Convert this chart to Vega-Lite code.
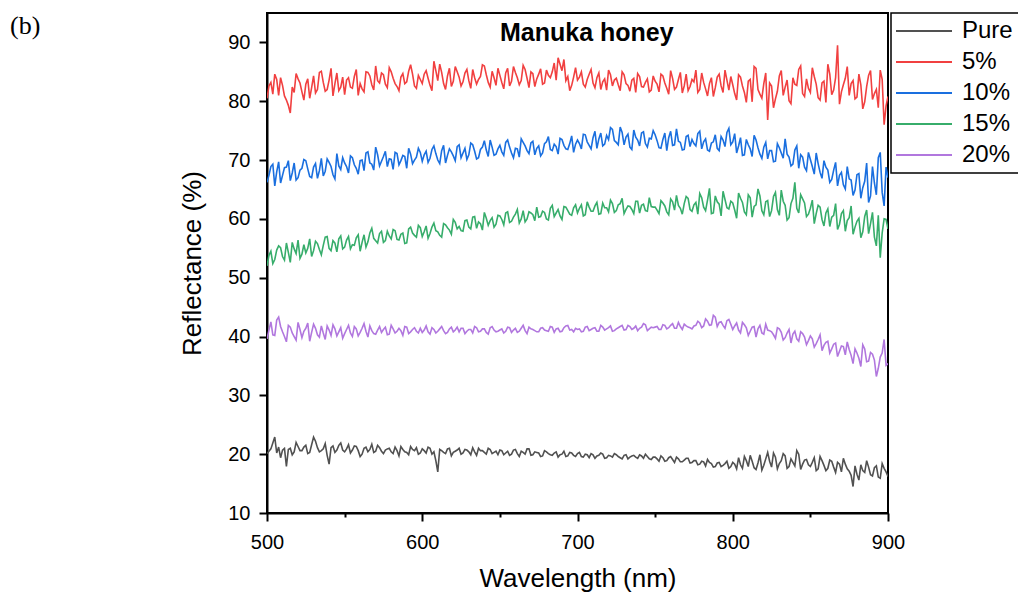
{
"$schema":"https://vega.github.io/schema/vega-lite/v6.json",
"width":621,"height":500,
"autosize":{"type":"none"},
"padding":{"left":267,"top":13,"right":130,"bottom":83},
"background":"white",
"config":{"view":{"stroke":"black","strokeWidth":2},"font":"Liberation Sans","legend":{"strokeWidth":1.5}},
"title":{"text":"(b)","anchor":"start","frame":"group","orient":"top","dx":-257,"dy":40,"offset":0,"baseline":"middle","font":"Liberation Serif","fontSize":26,"fontWeight":"normal","color":"black"},
"layer":[
{"data":{"values":[
{"w":500,"Pure":20.1,"5%":80.5,"10%":66.2,"15%":52.0,"20%":39.6},
{"w":502.5,"Pure":20.9,"5%":83.2,"10%":68.9,"15%":54.5,"20%":42.5},
{"w":505,"Pure":22.9,"5%":84.6,"10%":65.6,"15%":53.1,"20%":40.2},
{"w":507.5,"Pure":21.2,"5%":81.0,"10%":69.7,"15%":55.4,"20%":43.3},
{"w":510,"Pure":20.7,"5%":82.7,"10%":67.4,"15%":53.6,"20%":40.8},
{"w":512.5,"Pure":17.9,"5%":80.2,"10%":68.8,"15%":55.9,"20%":39.1},
{"w":515,"Pure":21.0,"5%":78.0,"10%":66.5,"15%":52.6,"20%":41.6},
{"w":517.5,"Pure":20.4,"5%":81.5,"10%":69.5,"15%":54.9,"20%":40.0},
{"w":520,"Pure":21.3,"5%":83.8,"10%":67.0,"15%":56.4,"20%":42.4},
{"w":522.5,"Pure":20.6,"5%":81.6,"10%":68.6,"15%":54.0,"20%":39.8},
{"w":525,"Pure":21.5,"5%":82.9,"10%":69.9,"15%":54.2,"20%":41.4},
{"w":527.5,"Pure":20.3,"5%":80.5,"10%":67.2,"15%":56.6,"20%":39.2},
{"w":530,"Pure":22.9,"5%":84.3,"10%":68.8,"15%":54.6,"20%":42.1},
{"w":532.5,"Pure":21.1,"5%":82.0,"10%":66.9,"15%":55.8,"20%":40.3},
{"w":535,"Pure":20.6,"5%":85.1,"10%":70.3,"15%":53.9,"20%":41.8},
{"w":537.5,"Pure":21.8,"5%":81.7,"10%":68.1,"15%":56.9,"20%":39.5},
{"w":540,"Pure":18.3,"5%":83.6,"10%":69.6,"15%":55.0,"20%":41.1},
{"w":542.5,"Pure":21.4,"5%":80.9,"10%":67.5,"15%":56.3,"20%":42.0},
{"w":545,"Pure":20.7,"5%":84.8,"10%":71.1,"15%":54.4,"20%":40.1},
{"w":547.5,"Pure":21.9,"5%":82.4,"10%":68.4,"15%":57.1,"20%":41.5},
{"w":550,"Pure":20.4,"5%":81.1,"10%":69.5,"15%":55.2,"20%":40.5},
{"w":552.5,"Pure":21.6,"5%":84.0,"10%":67.8,"15%":57.0,"20%":41.9},
{"w":555,"Pure":20.7,"5%":82.2,"10%":70.4,"15%":55.6,"20%":40.0},
{"w":557.5,"Pure":21.3,"5%":85.4,"10%":68.6,"15%":56.8,"20%":41.3},
{"w":560,"Pure":19.6,"5%":83.0,"10%":69.9,"15%":54.5,"20%":40.7},
{"w":562.5,"Pure":21.0,"5%":81.6,"10%":68.2,"15%":57.3,"20%":42.2},
{"w":565,"Pure":20.4,"5%":84.9,"10%":71.4,"15%":56.1,"20%":39.9},
{"w":567.5,"Pure":21.7,"5%":82.8,"10%":69.3,"15%":58.4,"20%":41.0},
{"w":570,"Pure":20.5,"5%":86.0,"10%":72.2,"15%":56.3,"20%":40.4},
{"w":572.5,"Pure":21.1,"5%":83.1,"10%":69.0,"15%":57.5,"20%":41.7},
{"w":575,"Pure":20.1,"5%":84.5,"10%":70.6,"15%":56.0,"20%":41.2},
{"w":577.5,"Pure":20.9,"5%":82.3,"10%":68.9,"15%":57.9,"20%":40.3},
{"w":580,"Pure":20.4,"5%":85.0,"10%":70.1,"15%":56.6,"20%":41.9},
{"w":582.5,"Pure":21.2,"5%":83.0,"10%":71.3,"15%":58.0,"20%":40.6},
{"w":585,"Pure":19.7,"5%":81.8,"10%":69.2,"15%":56.4,"20%":41.4},
{"w":587.5,"Pure":20.8,"5%":84.7,"10%":70.8,"15%":57.6,"20%":40.2},
{"w":590,"Pure":20.3,"5%":83.3,"10%":68.6,"15%":55.9,"20%":41.6},
{"w":592.5,"Pure":21.3,"5%":86.2,"10%":71.0,"15%":58.6,"20%":40.8},
{"w":595,"Pure":20.6,"5%":82.6,"10%":70.0,"15%":57.2,"20%":41.5},
{"w":597.5,"Pure":20.0,"5%":84.4,"10%":72.0,"15%":58.9,"20%":40.6},
{"w":600,"Pure":20.9,"5%":83.0,"10%":69.8,"15%":57.0,"20%":40.7},
{"w":602.5,"Pure":20.2,"5%":85.2,"10%":71.5,"15%":58.8,"20%":41.8},
{"w":605,"Pure":21.0,"5%":82.7,"10%":70.3,"15%":57.5,"20%":40.4},
{"w":607.5,"Pure":20.4,"5%":86.8,"10%":72.4,"15%":59.3,"20%":41.2},
{"w":610,"Pure":17.0,"5%":83.5,"10%":70.0,"15%":57.8,"20%":40.9},
{"w":612.5,"Pure":20.6,"5%":84.9,"10%":71.6,"15%":56.9,"20%":41.7},
{"w":615,"Pure":20.1,"5%":82.0,"10%":69.5,"15%":59.0,"20%":40.5},
{"w":617.5,"Pure":21.0,"5%":85.6,"10%":71.9,"15%":58.1,"20%":41.3},
{"w":620,"Pure":20.3,"5%":83.4,"10%":70.7,"15%":59.9,"20%":40.8},
{"w":622.5,"Pure":20.7,"5%":85.0,"10%":72.3,"15%":58.3,"20%":41.6},
{"w":625,"Pure":20.0,"5%":82.6,"10%":70.4,"15%":58.0,"20%":41.4},
{"w":627.5,"Pure":20.8,"5%":84.8,"10%":72.0,"15%":59.7,"20%":40.5},
{"w":630,"Pure":20.4,"5%":83.5,"10%":70.9,"15%":58.6,"20%":41.2},
{"w":632.5,"Pure":21.1,"5%":85.4,"10%":72.6,"15%":60.3,"20%":40.6},
{"w":635,"Pure":19.8,"5%":82.9,"10%":70.2,"15%":58.4,"20%":41.5},
{"w":637.5,"Pure":20.6,"5%":84.2,"10%":71.8,"15%":59.2,"20%":40.9},
{"w":640,"Pure":20.3,"5%":86.0,"10%":73.3,"15%":61.1,"20%":41.3},
{"w":642.5,"Pure":21.0,"5%":83.2,"10%":70.6,"15%":58.9,"20%":40.4},
{"w":645,"Pure":20.1,"5%":85.1,"10%":72.2,"15%":60.2,"20%":41.7},
{"w":647.5,"Pure":20.5,"5%":82.7,"10%":71.0,"15%":59.1,"20%":40.8},
{"w":650,"Pure":20.7,"5%":84.4,"10%":72.5,"15%":60.5,"20%":41.1},
{"w":652.5,"Pure":19.9,"5%":82.1,"10%":70.8,"15%":59.0,"20%":40.6},
{"w":655,"Pure":20.5,"5%":85.6,"10%":73.4,"15%":61.2,"20%":41.6},
{"w":657.5,"Pure":20.0,"5%":83.4,"10%":71.2,"15%":59.6,"20%":40.7},
{"w":660,"Pure":20.8,"5%":84.9,"10%":72.0,"15%":60.8,"20%":41.4},
{"w":662.5,"Pure":19.6,"5%":82.8,"10%":70.5,"15%":59.3,"20%":40.9},
{"w":665,"Pure":20.3,"5%":86.1,"10%":73.0,"15%":61.4,"20%":41.9},
{"w":667.5,"Pure":20.9,"5%":83.9,"10%":71.6,"15%":60.0,"20%":40.5},
{"w":670,"Pure":19.8,"5%":85.0,"10%":72.9,"15%":61.0,"20%":41.3},
{"w":672.5,"Pure":20.4,"5%":82.5,"10%":70.9,"15%":59.7,"20%":41.0},
{"w":675,"Pure":20.2,"5%":84.6,"10%":72.4,"15%":60.3,"20%":40.8},
{"w":677.5,"Pure":19.7,"5%":82.9,"10%":71.2,"15%":61.3,"20%":41.5},
{"w":680,"Pure":20.4,"5%":85.3,"10%":73.1,"15%":60.0,"20%":41.0},
{"w":682.5,"Pure":19.9,"5%":84.0,"10%":71.8,"15%":61.8,"20%":41.7},
{"w":685,"Pure":20.2,"5%":86.5,"10%":72.7,"15%":60.4,"20%":40.7},
{"w":687.5,"Pure":19.5,"5%":87.4,"10%":71.0,"15%":61.6,"20%":41.4},
{"w":690,"Pure":20.0,"5%":85.2,"10%":73.5,"15%":59.9,"20%":40.9},
{"w":692.5,"Pure":19.6,"5%":83.5,"10%":71.9,"15%":62.0,"20%":41.8},
{"w":695,"Pure":20.3,"5%":81.8,"10%":72.8,"15%":60.8,"20%":41.1},
{"w":697.5,"Pure":19.8,"5%":84.1,"10%":71.3,"15%":61.9,"20%":40.8},
{"w":700,"Pure":20.1,"5%":83.6,"10%":73.4,"15%":61.0,"20%":41.2},
{"w":702.5,"Pure":19.6,"5%":85.0,"10%":71.9,"15%":62.4,"20%":40.8},
{"w":705,"Pure":20.0,"5%":82.4,"10%":74.3,"15%":60.7,"20%":41.6},
{"w":707.5,"Pure":19.4,"5%":84.6,"10%":72.5,"15%":62.0,"20%":41.0},
{"w":710,"Pure":19.9,"5%":83.1,"10%":73.8,"15%":61.3,"20%":41.4},
{"w":712.5,"Pure":19.7,"5%":84.0,"10%":72.0,"15%":62.8,"20%":40.9},
{"w":715,"Pure":20.2,"5%":82.0,"10%":74.6,"15%":60.9,"20%":41.9},
{"w":717.5,"Pure":19.3,"5%":83.8,"10%":72.7,"15%":61.9,"20%":41.1},
{"w":720,"Pure":19.8,"5%":85.3,"10%":73.5,"15%":61.2,"20%":41.5},
{"w":722.5,"Pure":19.5,"5%":82.6,"10%":75.2,"15%":62.6,"20%":40.9},
{"w":725,"Pure":19.9,"5%":83.9,"10%":73.0,"15%":61.4,"20%":41.3},
{"w":727.5,"Pure":19.4,"5%":81.8,"10%":75.6,"15%":62.6,"20%":41.7},
{"w":730,"Pure":19.8,"5%":84.5,"10%":72.6,"15%":60.9,"20%":41.1},
{"w":732.5,"Pure":19.2,"5%":82.7,"10%":74.4,"15%":62.2,"20%":41.9},
{"w":735,"Pure":19.7,"5%":83.6,"10%":71.8,"15%":61.6,"20%":41.2},
{"w":737.5,"Pure":19.5,"5%":81.5,"10%":73.9,"15%":63.0,"20%":41.8},
{"w":740,"Pure":19.9,"5%":84.2,"10%":72.4,"15%":61.0,"20%":41.4},
{"w":742.5,"Pure":19.3,"5%":82.4,"10%":74.8,"15%":62.5,"20%":42.2},
{"w":745,"Pure":19.6,"5%":83.8,"10%":72.2,"15%":61.3,"20%":41.0},
{"w":747.5,"Pure":19.1,"5%":81.9,"10%":73.6,"15%":62.1,"20%":41.6},
{"w":750,"Pure":19.5,"5%":83.4,"10%":74.3,"15%":62.0,"20%":41.6},
{"w":752.5,"Pure":18.8,"5%":81.6,"10%":72.1,"15%":60.9,"20%":41.2},
{"w":755,"Pure":19.4,"5%":84.3,"10%":73.5,"15%":62.7,"20%":42.0},
{"w":757.5,"Pure":18.9,"5%":82.2,"10%":71.6,"15%":61.2,"20%":41.3},
{"w":760,"Pure":19.6,"5%":85.2,"10%":74.9,"15%":63.4,"20%":41.9},
{"w":762.5,"Pure":18.6,"5%":82.0,"10%":72.6,"15%":61.5,"20%":41.4},
{"w":765,"Pure":19.2,"5%":83.7,"10%":73.2,"15%":62.3,"20%":42.4},
{"w":767.5,"Pure":18.7,"5%":81.4,"10%":71.7,"15%":60.8,"20%":41.2},
{"w":770,"Pure":19.3,"5%":84.6,"10%":74.0,"15%":63.8,"20%":41.8},
{"w":772.5,"Pure":18.5,"5%":82.5,"10%":72.3,"15%":61.6,"20%":41.5},
{"w":775,"Pure":18.9,"5%":83.3,"10%":72.8,"15%":62.4,"20%":41.8},
{"w":777.5,"Pure":18.2,"5%":81.5,"10%":74.5,"15%":60.8,"20%":42.6},
{"w":780,"Pure":18.8,"5%":84.8,"10%":71.9,"15%":63.6,"20%":41.5},
{"w":782.5,"Pure":18.0,"5%":82.1,"10%":73.6,"15%":61.4,"20%":43.0},
{"w":785,"Pure":18.6,"5%":83.0,"10%":71.5,"15%":65.2,"20%":41.9},
{"w":787.5,"Pure":17.8,"5%":80.8,"10%":73.1,"15%":61.0,"20%":43.6},
{"w":790,"Pure":18.5,"5%":84.1,"10%":72.0,"15%":62.9,"20%":41.7},
{"w":792.5,"Pure":17.9,"5%":82.6,"10%":74.0,"15%":60.5,"20%":42.5},
{"w":795,"Pure":18.4,"5%":85.3,"10%":72.3,"15%":63.3,"20%":41.4},
{"w":797.5,"Pure":17.6,"5%":81.9,"10%":75.4,"15%":61.7,"20%":42.9},
{"w":800,"Pure":18.6,"5%":82.8,"10%":73.1,"15%":62.7,"20%":41.2},
{"w":802.5,"Pure":17.5,"5%":80.2,"10%":71.2,"15%":60.1,"20%":42.3},
{"w":805,"Pure":18.2,"5%":84.1,"10%":73.8,"15%":63.5,"20%":40.6},
{"w":807.5,"Pure":19.6,"5%":81.5,"10%":70.9,"15%":61.2,"20%":42.0},
{"w":810,"Pure":17.9,"5%":83.4,"10%":72.6,"15%":64.1,"20%":40.2},
{"w":812.5,"Pure":18.8,"5%":79.9,"10%":70.6,"15%":60.3,"20%":41.6},
{"w":815,"Pure":17.4,"5%":85.6,"10%":73.4,"15%":62.4,"20%":39.9},
{"w":817.5,"Pure":19.9,"5%":81.2,"10%":71.0,"15%":63.9,"20%":41.9},
{"w":820,"Pure":18.1,"5%":83.0,"10%":72.2,"15%":60.7,"20%":40.4},
{"w":822.5,"Pure":20.3,"5%":76.8,"10%":70.2,"15%":63.1,"20%":41.1},
{"w":825,"Pure":17.8,"5%":82.6,"10%":71.6,"15%":61.4,"20%":40.8},
{"w":827.5,"Pure":19.5,"5%":80.4,"10%":69.8,"15%":64.5,"20%":39.7},
{"w":830,"Pure":18.4,"5%":84.3,"10%":72.1,"15%":60.6,"20%":41.3},
{"w":832.5,"Pure":20.1,"5%":81.0,"10%":70.3,"15%":63.0,"20%":39.4},
{"w":835,"Pure":17.6,"5%":83.6,"10%":71.0,"15%":59.8,"20%":40.6},
{"w":837.5,"Pure":19.2,"5%":79.6,"10%":69.0,"15%":62.6,"20%":38.9},
{"w":840,"Pure":18.0,"5%":82.9,"10%":71.7,"15%":66.2,"20%":40.9},
{"w":842.5,"Pure":20.0,"5%":85.4,"10%":68.6,"15%":61.0,"20%":39.2},
{"w":845,"Pure":18.3,"5%":81.3,"10%":70.5,"15%":63.4,"20%":40.5},
{"w":847.5,"Pure":19.1,"5%":83.8,"10%":68.2,"15%":60.4,"20%":38.6},
{"w":850,"Pure":17.9,"5%":81.5,"10%":70.1,"15%":61.8,"20%":40.1},
{"w":852.5,"Pure":19.4,"5%":84.2,"10%":67.6,"15%":59.2,"20%":38.2},
{"w":855,"Pure":17.5,"5%":80.6,"10%":69.4,"15%":62.3,"20%":39.5},
{"w":857.5,"Pure":18.9,"5%":83.1,"10%":66.9,"15%":59.9,"20%":37.6},
{"w":860,"Pure":17.2,"5%":79.8,"10%":68.8,"15%":61.0,"20%":39.0},
{"w":862.5,"Pure":19.0,"5%":84.6,"10%":66.2,"15%":58.7,"20%":37.2},
{"w":865,"Pure":17.8,"5%":81.9,"10%":68.3,"15%":60.6,"20%":38.7},
{"w":867.5,"Pure":18.6,"5%":89.5,"10%":65.6,"15%":58.2,"20%":36.6},
{"w":870,"Pure":17.0,"5%":81.6,"10%":67.9,"15%":60.9,"20%":38.4},
{"w":872.5,"Pure":18.3,"5%":83.9,"10%":65.1,"15%":57.9,"20%":36.9},
{"w":875,"Pure":17.1,"5%":81.0,"10%":66.8,"15%":60.2,"20%":37.8},
{"w":877.5,"Pure":14.5,"5%":83.5,"10%":64.0,"15%":57.4,"20%":35.4},
{"w":880,"Pure":16.6,"5%":80.7,"10%":67.5,"15%":59.6,"20%":37.2},
{"w":882.5,"Pure":18.2,"5%":82.8,"10%":63.5,"15%":56.8,"20%":34.9},
{"w":885,"Pure":16.9,"5%":79.9,"10%":66.4,"15%":60.4,"20%":37.9},
{"w":887.5,"Pure":17.8,"5%":84.4,"10%":62.8,"15%":57.5,"20%":35.8},
{"w":890,"Pure":16.3,"5%":80.3,"10%":68.9,"15%":61.1,"20%":37.0},
{"w":892.5,"Pure":18.0,"5%":82.0,"10%":64.1,"15%":55.4,"20%":33.2},
{"w":895,"Pure":15.9,"5%":85.3,"10%":71.3,"15%":53.4,"20%":36.5},
{"w":897.5,"Pure":17.6,"5%":76.0,"10%":62.2,"15%":60.0,"20%":39.5},
{"w":900,"Pure":16.2,"5%":80.8,"10%":67.0,"15%":58.3,"20%":35.4},
{"w":501.25,"Pure":20.5,"5%":82.6,"10%":67.4,"15%":53.8,"20%":41.1},
{"w":503.75,"Pure":21.9,"5%":81.2,"10%":69.3,"15%":52.4,"20%":40.3},
{"w":506.25,"Pure":20.2,"5%":83.7,"10%":68.0,"15%":54.7,"20%":42.8},
{"w":508.75,"Pure":19.4,"5%":84.0,"10%":66.1,"15%":55.1,"20%":41.7},
{"w":511.25,"Pure":21.0,"5%":80.9,"10%":68.7,"15%":53.0,"20%":40.0},
{"w":513.75,"Pure":20.8,"5%":79.3,"10%":69.9,"15%":54.3,"20%":41.9},
{"w":516.25,"Pure":19.9,"5%":82.4,"10%":67.8,"15%":56.0,"20%":40.6},
{"w":518.75,"Pure":22.0,"5%":84.7,"10%":66.6,"15%":54.1,"20%":39.4},
{"w":521.25,"Pure":20.6,"5%":83.1,"10%":68.3,"15%":53.3,"20%":41.2},
{"w":523.75,"Pure":21.2,"5%":80.2,"10%":70.1,"15%":55.6,"20%":40.9},
{"w":526.25,"Pure":20.1,"5%":83.8,"10%":68.5,"15%":55.0,"20%":42.3},
{"w":528.75,"Pure":21.6,"5%":82.3,"10%":67.0,"15%":53.6,"20%":40.7},
{"w":531.25,"Pure":22.2,"5%":81.4,"10%":69.4,"15%":56.2,"20%":41.4},
{"w":533.75,"Pure":20.4,"5%":84.9,"10%":68.2,"15%":54.8,"20%":39.9},
{"w":536.25,"Pure":20.9,"5%":83.2,"10%":67.3,"15%":55.5,"20%":40.6},
{"w":538.75,"Pure":19.8,"5%":82.0,"10%":70.2,"15%":57.0,"20%":41.8},
{"w":541.25,"Pure":21.1,"5%":85.6,"10%":68.9,"15%":54.6,"20%":40.2},
{"w":543.75,"Pure":20.3,"5%":83.0,"10%":66.8,"15%":55.9,"20%":41.3},
{"w":546.25,"Pure":21.5,"5%":81.8,"10%":69.0,"15%":56.6,"20%":40.8},
{"w":548.75,"Pure":20.7,"5%":84.1,"10%":70.4,"15%":54.9,"20%":39.7},
{"w":551.25,"Pure":20.9,"5%":83.6,"10%":68.9,"15%":56.4,"20%":41.2},
{"w":553.75,"Pure":20.2,"5%":82.4,"10%":70.7,"15%":54.9,"20%":40.6},
{"w":556.25,"Pure":21.4,"5%":84.2,"10%":69.2,"15%":55.5,"20%":41.7},
{"w":558.75,"Pure":20.6,"5%":81.0,"10%":67.6,"15%":57.3,"20%":40.1},
{"w":561.25,"Pure":20.0,"5%":82.1,"10%":70.0,"15%":56.0,"20%":41.4},
{"w":563.75,"Pure":21.2,"5%":85.0,"10%":71.2,"15%":55.2,"20%":40.9},
{"w":566.25,"Pure":20.8,"5%":84.3,"10%":69.5,"15%":57.6,"20%":41.8},
{"w":568.75,"Pure":20.3,"5%":81.9,"10%":68.3,"15%":56.7,"20%":40.5},
{"w":571.25,"Pure":21.5,"5%":83.5,"10%":70.9,"15%":55.9,"20%":41.1},
{"w":573.75,"Pure":20.5,"5%":84.8,"10%":69.8,"15%":57.9,"20%":40.7},
{"w":576.25,"Pure":20.7,"5%":82.9,"10%":71.5,"15%":56.3,"20%":41.6},
{"w":578.75,"Pure":21.0,"5%":85.7,"10%":70.2,"15%":57.1,"20%":40.4},
{"w":581.25,"Pure":20.1,"5%":83.9,"10%":68.4,"15%":58.2,"20%":41.3},
{"w":583.75,"Pure":20.6,"5%":82.5,"10%":71.1,"15%":56.5,"20%":40.9},
{"w":586.25,"Pure":21.3,"5%":84.1,"10%":69.9,"15%":57.4,"20%":41.0},
{"w":588.75,"Pure":20.4,"5%":83.0,"10%":70.6,"15%":55.8,"20%":41.7},
{"w":591.25,"Pure":19.9,"5%":85.1,"10%":72.0,"15%":58.3,"20%":40.5},
{"w":593.75,"Pure":20.8,"5%":84.6,"10%":69.4,"15%":57.6,"20%":41.2},
{"w":596.25,"Pure":21.1,"5%":82.2,"10%":70.5,"15%":56.9,"20%":40.9},
{"w":598.75,"Pure":20.2,"5%":83.7,"10%":71.3,"15%":58.5,"20%":41.4},
{"w":601.25,"Pure":20.6,"5%":84.6,"10%":70.9,"15%":57.8,"20%":41.1},
{"w":603.75,"Pure":21.2,"5%":83.9,"10%":69.6,"15%":56.7,"20%":40.8},
{"w":606.25,"Pure":20.0,"5%":81.8,"10%":71.8,"15%":58.6,"20%":41.5},
{"w":608.75,"Pure":18.9,"5%":85.2,"10%":71.1,"15%":58.0,"20%":40.6},
{"w":611.25,"Pure":20.8,"5%":86.3,"10%":69.4,"15%":57.2,"20%":41.3},
{"w":613.75,"Pure":20.3,"5%":83.0,"10%":72.5,"15%":59.2,"20%":41.0},
{"w":616.25,"Pure":20.9,"5%":84.3,"10%":70.8,"15%":58.5,"20%":40.7},
{"w":618.75,"Pure":19.7,"5%":82.5,"10%":71.4,"15%":57.4,"20%":41.6},
{"w":621.25,"Pure":20.5,"5%":85.9,"10%":69.9,"15%":59.4,"20%":41.1},
{"w":623.75,"Pure":21.0,"5%":84.1,"10%":72.6,"15%":58.7,"20%":40.8},
{"w":626.25,"Pure":20.2,"5%":83.3,"10%":71.2,"15%":57.9,"20%":41.4},
{"w":628.75,"Pure":20.7,"5%":85.4,"10%":70.1,"15%":59.8,"20%":40.9},
{"w":631.25,"Pure":19.9,"5%":82.2,"10%":72.9,"15%":58.3,"20%":41.2},
{"w":633.75,"Pure":20.4,"5%":84.0,"10%":71.5,"15%":60.4,"20%":41.7},
{"w":636.25,"Pure":21.0,"5%":83.7,"10%":70.4,"15%":59.5,"20%":40.8},
{"w":638.75,"Pure":20.6,"5%":86.2,"10%":72.2,"15%":58.1,"20%":41.3},
{"w":641.25,"Pure":20.0,"5%":84.5,"10%":71.7,"15%":60.1,"20%":40.7},
{"w":643.75,"Pure":20.8,"5%":82.4,"10%":73.4,"15%":59.7,"20%":41.5},
{"w":646.25,"Pure":20.3,"5%":84.0,"10%":70.8,"15%":58.6,"20%":41.1},
{"w":648.75,"Pure":19.9,"5%":85.6,"10%":71.9,"15%":60.6,"20%":40.9},
{"w":651.25,"Pure":20.6,"5%":83.2,"10%":71.4,"15%":59.9,"20%":41.3},
{"w":653.75,"Pure":20.2,"5%":84.8,"10%":73.0,"15%":61.0,"20%":40.9},
{"w":656.25,"Pure":19.8,"5%":82.6,"10%":72.2,"15%":59.4,"20%":41.5},
{"w":658.75,"Pure":20.7,"5%":85.9,"10%":70.4,"15%":60.3,"20%":41.1},
{"w":661.25,"Pure":20.1,"5%":84.0,"10%":71.9,"15%":61.6,"20%":40.7},
{"w":663.75,"Pure":20.5,"5%":83.5,"10%":73.6,"15%":60.0,"20%":41.4},
{"w":666.25,"Pure":20.0,"5%":85.4,"10%":72.4,"15%":59.5,"20%":41.0},
{"w":668.75,"Pure":20.9,"5%":82.3,"10%":71.1,"15%":61.2,"20%":41.6},
{"w":671.25,"Pure":19.9,"5%":84.7,"10%":73.2,"15%":60.7,"20%":41.2},
{"w":673.75,"Pure":20.3,"5%":83.8,"10%":72.0,"15%":62.0,"20%":40.8},
{"w":676.25,"Pure":19.6,"5%":85.5,"10%":70.7,"15%":60.4,"20%":41.4},
{"w":678.75,"Pure":20.6,"5%":83.1,"10%":72.8,"15%":61.1,"20%":41.1},
{"w":681.25,"Pure":20.1,"5%":84.4,"10%":74.0,"15%":59.8,"20%":40.9},
{"w":683.75,"Pure":19.8,"5%":85.0,"10%":71.6,"15%":62.3,"20%":41.6},
{"w":686.25,"Pure":20.4,"5%":83.6,"10%":72.3,"15%":61.0,"20%":41.3},
{"w":688.75,"Pure":19.9,"5%":86.3,"10%":73.7,"15%":60.5,"20%":40.8},
{"w":691.25,"Pure":20.5,"5%":87.1,"10%":72.5,"15%":62.1,"20%":41.5},
{"w":693.75,"Pure":19.7,"5%":84.2,"10%":71.8,"15%":61.4,"20%":41.9},
{"w":696.25,"Pure":20.2,"5%":82.7,"10%":74.1,"15%":60.6,"20%":41.2},
{"w":698.75,"Pure":19.6,"5%":85.7,"10%":72.7,"15%":62.4,"20%":41.4},
{"w":701.25,"Pure":20.3,"5%":84.1,"10%":72.8,"15%":61.8,"20%":41.3},
{"w":703.75,"Pure":19.5,"5%":82.9,"10%":74.4,"15%":60.5,"20%":40.9},
{"w":706.25,"Pure":19.9,"5%":83.7,"10%":73.1,"15%":62.9,"20%":41.7},
{"w":708.75,"Pure":20.1,"5%":85.4,"10%":71.9,"15%":61.3,"20%":41.2},
{"w":711.25,"Pure":19.3,"5%":82.3,"10%":74.9,"15%":62.2,"20%":41.5},
{"w":713.75,"Pure":19.8,"5%":84.8,"10%":73.6,"15%":60.8,"20%":40.9},
{"w":716.25,"Pure":20.0,"5%":83.3,"10%":72.4,"15%":62.7,"20%":41.6},
{"w":718.75,"Pure":19.4,"5%":81.9,"10%":74.2,"15%":61.9,"20%":41.3},
{"w":721.25,"Pure":19.7,"5%":84.5,"10%":75.5,"15%":63.2,"20%":41.8},
{"w":723.75,"Pure":20.1,"5%":83.6,"10%":73.3,"15%":61.1,"20%":41.0},
{"w":726.25,"Pure":19.6,"5%":82.8,"10%":72.6,"15%":62.4,"20%":41.5},
{"w":728.75,"Pure":19.2,"5%":85.0,"10%":74.7,"15%":63.5,"20%":41.9},
{"w":731.25,"Pure":19.9,"5%":83.0,"10%":73.9,"15%":61.6,"20%":41.2},
{"w":733.75,"Pure":19.5,"5%":81.7,"10%":72.2,"15%":62.1,"20%":41.7},
{"w":736.25,"Pure":19.8,"5%":83.9,"10%":75.1,"15%":60.9,"20%":41.4},
{"w":738.75,"Pure":19.3,"5%":84.7,"10%":73.4,"15%":63.0,"20%":41.0},
{"w":741.25,"Pure":19.7,"5%":82.5,"10%":74.6,"15%":62.3,"20%":41.6},
{"w":743.75,"Pure":20.0,"5%":83.2,"10%":72.8,"15%":61.4,"20%":42.0},
{"w":746.25,"Pure":19.2,"5%":81.6,"10%":73.7,"15%":63.6,"20%":41.3},
{"w":748.75,"Pure":19.5,"5%":84.3,"10%":75.0,"15%":62.0,"20%":41.5},
{"w":751.25,"Pure":19.2,"5%":82.9,"10%":73.3,"15%":61.5,"20%":41.7},
{"w":753.75,"Pure":19.7,"5%":84.6,"10%":72.0,"15%":63.1,"20%":41.2},
{"w":756.25,"Pure":18.8,"5%":83.1,"10%":74.6,"15%":62.2,"20%":41.9},
{"w":758.75,"Pure":19.4,"5%":81.2,"10%":73.8,"15%":60.7,"20%":41.5},
{"w":761.25,"Pure":19.1,"5%":83.9,"10%":72.5,"15%":62.9,"20%":42.2},
{"w":763.75,"Pure":19.5,"5%":82.4,"10%":75.3,"15%":64.0,"20%":41.4},
{"w":766.25,"Pure":18.7,"5%":84.9,"10%":73.0,"15%":61.8,"20%":41.7},
{"w":768.75,"Pure":19.0,"5%":82.6,"10%":71.8,"15%":62.6,"20%":42.1},
{"w":771.25,"Pure":19.3,"5%":81.8,"10%":74.2,"15%":63.5,"20%":41.6},
{"w":773.75,"Pure":18.6,"5%":83.7,"10%":73.5,"15%":61.3,"20%":41.3},
{"w":776.25,"Pure":18.9,"5%":85.3,"10%":72.4,"15%":62.8,"20%":41.9},
{"w":778.75,"Pure":18.3,"5%":82.0,"10%":74.9,"15%":64.3,"20%":42.3},
{"w":781.25,"Pure":18.7,"5%":83.2,"10%":73.1,"15%":62.0,"20%":41.8},
{"w":783.75,"Pure":19.1,"5%":80.9,"10%":71.7,"15%":63.2,"20%":42.6},
{"w":786.25,"Pure":18.4,"5%":84.0,"10%":72.9,"15%":60.9,"20%":42.0},
{"w":788.75,"Pure":17.9,"5%":82.3,"10%":74.3,"15%":63.9,"20%":43.3},
{"w":791.25,"Pure":18.6,"5%":84.6,"10%":71.6,"15%":62.5,"20%":42.4},
{"w":793.75,"Pure":18.1,"5%":81.5,"10%":73.4,"15%":64.7,"20%":41.9},
{"w":796.25,"Pure":18.8,"5%":83.6,"10%":74.7,"15%":61.9,"20%":42.7},
{"w":798.75,"Pure":17.9,"5%":84.2,"10%":72.6,"15%":63.0,"20%":42.1},
{"w":801.25,"Pure":18.3,"5%":81.3,"10%":74.5,"15%":61.5,"20%":41.8},
{"w":803.75,"Pure":19.4,"5%":84.5,"10%":72.4,"15%":64.4,"20%":41.1},
{"w":806.25,"Pure":17.6,"5%":82.6,"10%":70.8,"15%":62.8,"20%":42.4},
{"w":808.75,"Pure":18.9,"5%":79.8,"10%":73.5,"15%":60.7,"20%":41.5},
{"w":811.25,"Pure":19.8,"5%":83.7,"10%":71.9,"15%":63.6,"20%":40.9},
{"w":813.75,"Pure":17.7,"5%":85.9,"10%":74.2,"15%":62.1,"20%":41.7},
{"w":816.25,"Pure":18.5,"5%":82.0,"10%":72.1,"15%":65.1,"20%":41.3},
{"w":818.75,"Pure":17.3,"5%":80.5,"10%":70.3,"15%":61.4,"20%":40.6},
{"w":821.25,"Pure":19.2,"5%":84.8,"10%":73.0,"15%":62.9,"20%":42.1},
{"w":823.75,"Pure":18.8,"5%":83.1,"10%":71.6,"15%":60.4,"20%":41.0},
{"w":826.25,"Pure":20.2,"5%":78.9,"10%":69.7,"15%":63.8,"20%":40.3},
{"w":828.75,"Pure":17.5,"5%":81.7,"10%":72.8,"15%":61.6,"20%":41.5},
{"w":831.25,"Pure":18.9,"5%":85.2,"10%":71.2,"15%":64.9,"20%":40.7},
{"w":833.75,"Pure":19.7,"5%":82.4,"10%":73.6,"15%":62.3,"20%":39.8},
{"w":836.25,"Pure":17.9,"5%":80.1,"10%":70.5,"15%":60.2,"20%":41.2},
{"w":838.75,"Pure":18.6,"5%":84.0,"10%":69.3,"15%":63.5,"20%":40.4},
{"w":841.25,"Pure":20.6,"5%":82.7,"10%":72.4,"15%":61.8,"20%":39.6},
{"w":843.75,"Pure":17.4,"5%":86.0,"10%":70.9,"15%":64.1,"20%":40.8},
{"w":846.25,"Pure":19.0,"5%":80.8,"10%":68.8,"15%":62.7,"20%":39.9},
{"w":848.75,"Pure":18.2,"5%":82.2,"10%":71.3,"15%":60.8,"20%":39.3},
{"w":851.25,"Pure":18.6,"5%":85.7,"10%":68.9,"15%":63.2,"20%":39.6},
{"w":853.75,"Pure":17.2,"5%":82.9,"10%":71.2,"15%":60.9,"20%":38.8},
{"w":856.25,"Pure":19.6,"5%":80.2,"10%":67.9,"15%":62.0,"20%":40.3},
{"w":858.75,"Pure":18.1,"5%":83.4,"10%":69.9,"15%":58.8,"20%":38.5},
{"w":861.25,"Pure":17.6,"5%":86.3,"10%":68.3,"15%":61.7,"20%":39.2},
{"w":863.75,"Pure":18.8,"5%":81.1,"10%":66.7,"15%":60.3,"20%":37.9},
{"w":866.25,"Pure":16.9,"5%":84.0,"10%":69.6,"15%":62.6,"20%":38.9},
{"w":868.75,"Pure":18.3,"5%":79.5,"10%":67.4,"15%":59.1,"20%":37.5},
{"w":871.25,"Pure":19.3,"5%":82.8,"10%":65.8,"15%":61.4,"20%":38.3},
{"w":873.75,"Pure":17.5,"5%":85.9,"10%":68.9,"15%":59.7,"20%":39.1},
{"w":876.25,"Pure":16.4,"5%":83.0,"10%":66.6,"15%":62.2,"20%":36.8},
{"w":878.75,"Pure":18.0,"5%":80.4,"10%":64.9,"15%":58.6,"20%":37.9},
{"w":881.25,"Pure":15.6,"5%":84.6,"10%":67.7,"15%":60.1,"20%":36.3},
{"w":883.75,"Pure":17.2,"5%":78.7,"10%":65.3,"15%":57.8,"20%":38.6},
{"w":886.25,"Pure":18.9,"5%":82.5,"10%":69.5,"15%":61.5,"20%":35.7},
{"w":888.75,"Pure":16.5,"5%":85.2,"10%":63.9,"15%":59.2,"20%":37.3},
{"w":891.25,"Pure":17.7,"5%":81.3,"10%":66.1,"15%":56.9,"20%":36.0},
{"w":893.75,"Pure":16.1,"5%":78.9,"10%":70.4,"15%":60.6,"20%":34.6},
{"w":896.25,"Pure":18.4,"5%":83.7,"10%":64.5,"15%":57.6,"20%":37.2},
{"w":898.75,"Pure":17.0,"5%":79.2,"10%":68.8,"15%":59.9,"20%":35.1}
]},
"transform":[{"fold":["Pure","5%","10%","15%","20%"],"as":["s","r"]}],
"mark":{"type":"line","strokeWidth":1.6,"clip":true},
"encoding":{
"x":{"field":"w","type":"quantitative","scale":{"domain":[500,900],"nice":false,"zero":false},
"axis":{"values":[500,550,600,650,700,750,800,850,900],"labelExpr":"datum.value % 100 === 0 ? datum.label : ''","tickSize":{"condition":{"test":"datum.value % 100 === 0","value":8},"value":4},"tickWidth":2,"tickColor":"black","domainColor":"black","domainWidth":2,"labelFontSize":20,"labelColor":"black","labelPadding":11,"labelFlush":false,"grid":false,"title":"Wavelength (nm)","titleFontSize":26,"titleFontWeight":"normal","titleColor":"black","titlePadding":13}},
"y":{"field":"r","type":"quantitative","scale":{"domain":[10,95],"nice":false,"zero":false},
"axis":{"values":[10,15,20,25,30,35,40,45,50,55,60,65,70,75,80,85,90,95],"labelExpr":"datum.value % 10 === 0 ? datum.label : ''","tickSize":{"condition":{"test":"datum.value % 10 === 0","value":8},"value":4},"tickWidth":2,"tickColor":"black","domainColor":"black","domainWidth":2,"labelFontSize":20,"labelColor":"black","labelPadding":9,"labelFlush":false,"grid":false,"title":"Reflectance (%)","titleFontSize":26,"titleFontWeight":"normal","titleColor":"black","titlePadding":22}},
"color":{"field":"s","type":"nominal","scale":{"domain":["Pure","5%","10%","15%","20%"],"range":["#515151","#F14040","#1A6FDF","#37AD6B","#B177DE"]},
"legend":{"orient":"none","legendX":624,"legendY":0,"title":null,"strokeColor":"black","fillColor":"white","padding":6,"symbolType":"M-1.3,0H4.3","symbolSize":400,"symbolStrokeWidth":2,"labelFontSize":24,"labelColor":"black","labelOffset":41,"rowPadding":7}}
}},
{"data":{"values":[{"t":"Manuka honey"}]},
"mark":{"type":"text","fontSize":25,"fontWeight":"bold","baseline":"middle","align":"center","color":"black"},
"encoding":{"x":{"datum":706},"y":{"datum":91.6},"text":{"field":"t"}}}
]
}
